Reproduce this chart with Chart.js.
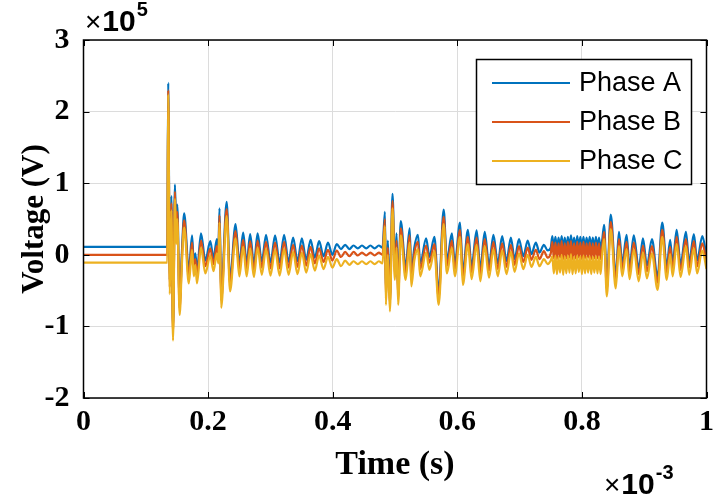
<!DOCTYPE html>
<html>
<head>
<meta charset="utf-8">
<script src="https://cdn.jsdelivr.net/npm/chart.js@4.4.1/dist/chart.umd.min.js"></script>
<style>
  body { margin: 0; background: #fff; }
  #wrap { width: 720px; height: 497px; }
</style>
</head>
<body>
<div id="wrap"><canvas id="graph" width="720" height="497"></canvas></div>
<script>
// time (x10^-3 s)
const time = [
  0, 0.1345,
  0.1360, 0.1385, 0.1410, 0.1437, 0.1468, 0.1488, 0.1505, 0.1543, 0.1580, 0.1616,
  0.1690, 0.1743, 0.1770, 0.1795, 0.1822, 0.1886, 0.1956, 0.2035, 0.2087, 0.2140,
  0.2165, 0.2183, 0.2210, 0.2298, 0.2352, 0.2441, 0.2502, 0.2563, 0.2619, 0.2675,
  0.2735, 0.2795, 0.2862, 0.2930, 0.3002, 0.3075, 0.3148, 0.3220, 0.3292, 0.3365,
  0.3435, 0.3505, 0.3575, 0.3645, 0.3713, 0.3782, 0.3853, 0.3924, 0.3995, 0.4065,
  0.4133, 0.4200, 0.4268, 0.4335, 0.4403, 0.4470, 0.4538, 0.4605, 0.4673, 0.4740,
  0.4800, 0.4838, 0.4854, 0.4885, 0.4918, 0.4960, 0.4997, 0.5025, 0.5051, 0.5092,
  0.5171, 0.5235, 0.5262, 0.5310, 0.5368, 0.5405, 0.5500, 0.5553, 0.5632, 0.5701,
  0.5781, 0.5833, 0.5913, 0.5960, 0.6044, 0.6090, 0.6170, 0.6230, 0.6310, 0.6370,
  0.6440, 0.6510, 0.6580, 0.6650, 0.6720, 0.6790, 0.6860, 0.6920, 0.6990, 0.7060,
  0.7130, 0.7190, 0.7260, 0.7320, 0.7390, 0.7450, 0.7500,
  0.7525, 0.7550, 0.7575, 0.7600, 0.7625, 0.7650, 0.7675, 0.7700, 0.7725, 0.7750,
  0.7775, 0.7800, 0.7825, 0.7850, 0.7875, 0.7900, 0.7925, 0.7950, 0.7975, 0.8000,
  0.8025, 0.8050, 0.8075, 0.8100, 0.8125, 0.8150, 0.8175, 0.8200, 0.8225, 0.8250,
  0.8275, 0.8300, 0.8325,
  0.8357, 0.8400, 0.8463, 0.8543, 0.8595, 0.8648, 0.8717, 0.8765, 0.8833, 0.8913,
  0.8980, 0.9044, 0.9124, 0.9214, 0.9290, 0.9362, 0.9416, 0.9457, 0.9521, 0.9584,
  0.9670, 0.9722, 0.9797, 0.9849, 0.9933, 1.0000
];

// voltage (x10^5 V)
const phaseA = [
  0.11, 0.11,
  2.40, -0.35, 0.82, -1.02, 0.98, 0.35, 0.70, -0.66, 0.05, 0.58,
  -0.22, 0.27, -0.12, 0.02, -0.22, 0.30, -0.08, 0.19, -0.05, 0.22,
  0.05, 0.65, -0.56, 0.74, -0.33, 0.43, -0.12, 0.31, -0.12, 0.29,
  -0.13, 0.30, -0.10, 0.28, -0.11, 0.27, -0.11, 0.28, -0.10, 0.24,
  -0.09, 0.23, -0.07, 0.21, -0.04, 0.19, -0.02, 0.17, 0.00, 0.15,
  0.08, 0.14, 0.08, 0.13, 0.09, 0.13, 0.09, 0.13, 0.09, 0.13,
  0.10, 0.60, -0.52, 0.20, -0.61, 0.85, -0.17, 0.30, -0.52, 0.47,
  -0.17, 0.37, -0.26, 0.10, 0.28, -0.12, 0.23, -0.03, 0.25, -0.52,
  0.63, -0.08, 0.30, -0.12, 0.45, -0.24, 0.35, -0.16, 0.34, -0.19,
  0.32, -0.14, 0.28, -0.12, 0.26, -0.09, 0.24, -0.06, 0.22, -0.02,
  0.20, 0.01, 0.17, 0.03, 0.14, 0.06, 0.10,
  0.26, 0.08, 0.25, 0.07, 0.24, 0.09, 0.26, 0.08, 0.24, 0.07,
  0.25, 0.09, 0.27, 0.08, 0.24, 0.07, 0.26, 0.09, 0.25, 0.08,
  0.25, 0.07, 0.24, 0.09, 0.25, 0.08, 0.24, 0.07, 0.25, 0.08,
  0.24, 0.07, 0.20,
  0.42, -0.40, 0.56, -0.29, 0.32, -0.12, 0.28, -0.16, 0.27, -0.19,
  0.23, -0.15, 0.22, -0.31, 0.45, -0.17, 0.21, -0.12, 0.35, -0.13,
  0.32, -0.10, 0.29, -0.08, 0.26, -0.02
];

const phaseB = [
  0.00, 0.00,
  2.30, -0.45, 0.72, -1.10, 0.88, 0.25, 0.60, -0.75, -0.03, 0.48,
  -0.30, 0.17, -0.20, -0.06, -0.30, 0.20, -0.16, 0.09, -0.13, 0.12,
  -0.03, 0.55, -0.64, 0.64, -0.41, 0.33, -0.20, 0.21, -0.20, 0.19,
  -0.21, 0.20, -0.18, 0.18, -0.19, 0.17, -0.19, 0.18, -0.18, 0.14,
  -0.17, 0.13, -0.15, 0.11, -0.12, 0.09, -0.10, 0.07, -0.08, 0.06,
  -0.03, 0.04, -0.02, 0.04, -0.01, 0.03, -0.01, 0.03, -0.01, 0.03,
  0.00, 0.50, -0.60, 0.10, -0.69, 0.75, -0.25, 0.20, -0.60, 0.37,
  -0.25, 0.27, -0.34, 0.02, 0.18, -0.20, 0.13, -0.11, 0.15, -0.60,
  0.53, -0.16, 0.20, -0.20, 0.35, -0.32, 0.25, -0.24, 0.24, -0.27,
  0.22, -0.22, 0.18, -0.20, 0.16, -0.17, 0.14, -0.14, 0.12, -0.10,
  0.10, -0.07, 0.07, -0.06, 0.05, -0.04, 0.02,
  0.18, -0.05, 0.17, -0.06, 0.16, -0.04, 0.19, -0.06, 0.16, -0.05,
  0.18, -0.04, 0.19, -0.06, 0.16, -0.05, 0.18, -0.04, 0.17, -0.06,
  0.18, -0.05, 0.16, -0.04, 0.17, -0.06, 0.16, -0.05, 0.17, -0.05,
  0.16, -0.06, 0.10,
  0.32, -0.48, 0.46, -0.37, 0.22, -0.20, 0.18, -0.24, 0.17, -0.27,
  0.13, -0.23, 0.12, -0.39, 0.35, -0.25, 0.11, -0.20, 0.25, -0.21,
  0.22, -0.18, 0.19, -0.16, 0.16, -0.10
];

const phaseC = [
  -0.11, -0.11,
  2.24, -0.55, 0.62, -1.20, 0.78, 0.15, 0.50, -0.84, -0.12, 0.38,
  -0.40, 0.07, -0.30, -0.14, -0.40, 0.10, -0.26, -0.01, -0.23, 0.02,
  -0.12, 0.45, -0.74, 0.54, -0.51, 0.23, -0.30, 0.11, -0.30, 0.09,
  -0.31, 0.10, -0.28, 0.08, -0.29, 0.07, -0.29, 0.08, -0.28, 0.04,
  -0.27, 0.03, -0.25, 0.01, -0.22, -0.01, -0.20, -0.03, -0.18, -0.06,
  -0.16, -0.08, -0.14, -0.09, -0.13, -0.09, -0.13, -0.09, -0.13, -0.09,
  -0.12, 0.40, -0.70, 0.00, -0.79, 0.65, -0.35, 0.10, -0.70, 0.27,
  -0.35, 0.17, -0.44, -0.08, 0.08, -0.30, 0.03, -0.21, 0.05, -0.70,
  0.43, -0.26, 0.10, -0.30, 0.25, -0.42, 0.15, -0.34, 0.14, -0.37,
  0.12, -0.32, 0.08, -0.30, 0.06, -0.27, 0.04, -0.24, 0.02, -0.20,
  0.00, -0.17, -0.03, -0.16, -0.06, -0.13, -0.08,
  -0.02, -0.26, -0.01, -0.27, -0.03, -0.25, 0.00, -0.28, -0.02, -0.26,
  -0.01, -0.25, 0.01, -0.27, -0.03, -0.26, -0.01, -0.24, -0.02, -0.27,
  -0.01, -0.26, -0.03, -0.25, -0.02, -0.27, -0.03, -0.25, -0.02, -0.26,
  -0.03, -0.27, 0.00,
  0.22, -0.58, 0.36, -0.47, 0.12, -0.30, 0.08, -0.34, 0.07, -0.37,
  0.03, -0.33, 0.02, -0.49, 0.25, -0.35, 0.01, -0.30, 0.15, -0.31,
  0.12, -0.28, 0.09, -0.26, 0.06, -0.20
];

// series names / colours
const seriesLabels = ['Phase A', 'Phase B', 'Phase C'];
const seriesColors = ['#0072BD', '#D95319', '#EDB120'];

// tick values and labels
const xTicks = [0, 0.2, 0.4, 0.6, 0.8, 1];
const xTickLabels = ['0', '0.2', '0.4', '0.6', '0.8', '1'];
const yTicks = [-2, -1, 0, 1, 2, 3];
const yTickLabels = ['-2', '-1', '0', '1', '2', '3'];

const serifBold = { family: '"Liberation Serif", "Times New Roman", serif', weight: 'bold' };

function toPoints(values) {
  return time.map(function(t, i) { return { x: t, y: values[i] }; });
}

// "x10^n" label: cross, bold base, raised exponent
function drawExponent(ctx, x, y, exp) {
  ctx.font = '28px "Liberation Sans"';
  ctx.fillText('\u00d7', x, y);
  x += ctx.measureText('\u00d7').width + 1;
  ctx.font = 'bold 30px "Liberation Sans"';
  ctx.fillText('10', x, y);
  x += ctx.measureText('10').width + 1;
  ctx.font = 'bold 20px "Liberation Sans"';
  ctx.fillText(exp, x, y - 15);
}

// frame, inner tick marks, exponents and legend (MATLAB look)
const matlabDecor = {
  id: 'matlabDecor',
  afterDatasetsDraw(chart) {
    const ctx = chart.ctx;
    const a = chart.chartArea;
    const xs = chart.scales.x;
    const ys = chart.scales.y;
    ctx.save();
    ctx.strokeStyle = '#000';
    ctx.lineWidth = 1.5;
    ctx.strokeRect(a.left, a.top, a.right - a.left, a.bottom - a.top);
    ctx.lineWidth = 1;
    ctx.beginPath();
    xTicks.forEach(function(v) {
      const px = Math.round(xs.getPixelForValue(v)) + 0.5;
      ctx.moveTo(px, a.bottom); ctx.lineTo(px, a.bottom - 6);
      ctx.moveTo(px, a.top); ctx.lineTo(px, a.top + 6);
    });
    yTicks.forEach(function(v) {
      const py = Math.round(ys.getPixelForValue(v)) + 0.5;
      ctx.moveTo(a.left, py); ctx.lineTo(a.left + 6, py);
      ctx.moveTo(a.right, py); ctx.lineTo(a.right - 6, py);
    });
    ctx.stroke();
    ctx.restore();
  },
  afterDraw(chart) {
    const ctx = chart.ctx;
    ctx.save();
    ctx.fillStyle = '#000';
    ctx.textBaseline = 'alphabetic';
    drawExponent(ctx, 85, 31, '5');
    drawExponent(ctx, 604, 494, '-3');

    // legend box
    ctx.fillStyle = '#fff';
    ctx.fillRect(476, 59, 216, 126);
    ctx.strokeStyle = '#000';
    ctx.lineWidth = 1.5;
    ctx.strokeRect(476.5, 59.5, 215, 125);
    ctx.font = '27px "Liberation Sans"';
    ctx.textBaseline = 'middle';
    chart.data.datasets.forEach(function(ds, i) {
      const y = 83 + i * 39;
      ctx.strokeStyle = ds.borderColor;
      ctx.lineWidth = 2;
      ctx.beginPath();
      ctx.moveTo(492, y);
      ctx.lineTo(570, y);
      ctx.stroke();
      ctx.fillStyle = '#000';
      ctx.fillText(ds.label, 579, y + 1);
    });
    ctx.restore();
  }
};

const graph = new Chart(document.getElementById('graph'), {
  type: 'line',
  data: {
    datasets: [phaseA, phaseB, phaseC].map(function(values, i) {
      return {
        label: seriesLabels[i],
        data: toPoints(values),
        borderColor: seriesColors[i],
        backgroundColor: seriesColors[i],
        borderWidth: 2.2,
        pointRadius: 0,
        fill: false,
        // Phase C on top, Phase A underneath
        order: 3 - i,
        cubicInterpolationMode: 'monotone'
      };
    })
  },
  options: {
    responsive: false,
    animation: false,
    layout: { padding: { top: 40, right: 6, left: 0, bottom: 0 } },
    plugins: {
      legend: { display: false },
      tooltip: { enabled: false }
    },
    scales: {
      x: {
        type: 'linear',
        min: 0,
        max: 1,
        afterBuildTicks: function(scale) {
          scale.ticks = xTicks.map(function(v) { return { value: v }; });
        },
        afterFit: function(scale) { scale.height = 99; },
        ticks: {
          autoSkip: false,
          maxRotation: 0,
          padding: 6,
          color: '#000',
          font: Object.assign({ size: 30 }, serifBold),
          callback: function(value, index) { return xTickLabels[index]; }
        },
        grid: { color: '#dcdcdc', drawTicks: false },
        border: { display: false },
        title: {
          display: true,
          text: 'Time (s)',
          color: '#000',
          font: Object.assign({ size: 34 }, serifBold),
          padding: { top: 0, bottom: 11 }
        }
      },
      y: {
        type: 'linear',
        min: -2,
        max: 3,
        afterBuildTicks: function(scale) {
          scale.ticks = yTicks.map(function(v) { return { value: v }; });
        },
        afterFit: function(scale) { scale.width = 83.5; },
        ticks: {
          autoSkip: false,
          padding: 14,
          color: '#000',
          font: Object.assign({ size: 30 }, serifBold),
          callback: function(value, index) { return yTickLabels[index]; }
        },
        grid: { color: '#dcdcdc', drawTicks: false },
        border: { display: false },
        title: {
          display: true,
          text: 'Voltage (V)',
          color: '#000',
          font: Object.assign({ size: 31 }, serifBold),
          padding: { top: 16, bottom: 0 }
        }
      }
    }
  },
  plugins: [matlabDecor]
});
</script>
</body>
</html>
